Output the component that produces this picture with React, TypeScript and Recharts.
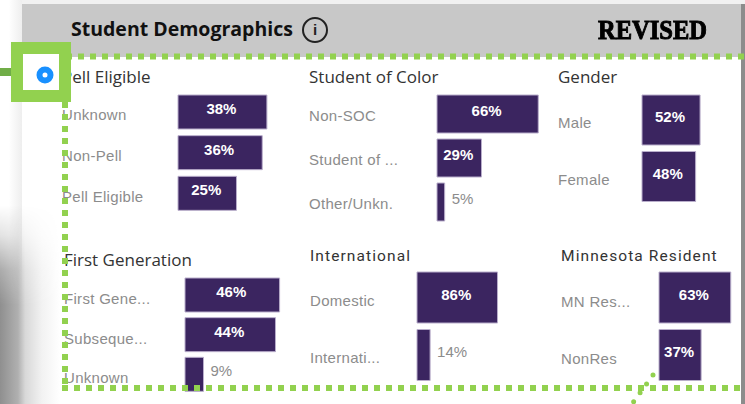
import React from 'react';
import { BarChart, Bar, XAxis, YAxis, LabelList } from 'recharts';

const PURPLE = '#3b2560';
const GREEN = '#92d14f';

const pellCategories = ['Unknown', 'Non-Pell', 'Pell Eligible'];
const pellValues = [38, 36, 25];
const socCategories = ['Non-SOC', 'Student of ...', 'Other/Unkn.'];
const socValues = [66, 29, 5];
const genderCategories = ['Male', 'Female'];
const genderValues = [52, 48];
const firstGenCategories = ['First Gene...', 'Subseque...', 'Unknown'];
const firstGenValues = [46, 44, 9];
const intlCategories = ['Domestic', 'Internati...'];
const intlValues = [86, 14];
const residentCategories = ['MN Res...', 'NonRes'];
const residentValues = [63, 37];

const toRows = (cats: string[], vals: number[]) => cats.map((name, i) => ({ name, value: vals[i] }));

const CategoryTick = (props: any) => {
  const { y, payload, labelOffset } = props;
  return (
    <text x={0} y={y + labelOffset} fontFamily="'Liberation Sans', Arial" fontSize={15} fill="#8c8c8c" letterSpacing={0.3}>
      {payload.value}
    </text>
  );
};

// value label sits inside the bar when it fits, otherwise just past the end
const ValueLabel = (props: any) => {
  const { x, y, width, height, value } = props;
  const inside = width > 30;
  return (
    <text
      x={inside ? x + width / 2 - 1 : x + width + 7}
      y={y + height / 2 + 2}
      textAnchor={inside ? 'middle' : 'start'}
      fontFamily="'Liberation Sans', Arial"
      fontSize={15}
      fontWeight={inside ? 700 : 400}
      fill={inside ? '#ffffff' : '#8c8c8c'}
    >
      {value}%
    </text>
  );
};

type SmallBarProps = {
  left: number;
  top: number;
  width: number;
  height: number;
  axisWidth: number;
  max: number;
  categories: string[];
  values: number[];
  barSize: number;
  labelOffset?: number;
};

const SmallBar = ({ left, top, width, height, axisWidth, max, categories, values, barSize, labelOffset = 6 }: SmallBarProps) => (
  <div style={{ position: 'absolute', left, top }}>
    <BarChart
      width={width}
      height={height}
      layout="vertical"
      data={toRows(categories, values)}
      margin={{ top: 0, right: 0, bottom: 0, left: 0 }}
      barSize={barSize}
    >
      <XAxis type="number" hide domain={[0, max]} />
      <YAxis
        type="category"
        dataKey="name"
        width={axisWidth}
        axisLine={false}
        tickLine={false}
        interval={0}
        tick={<CategoryTick labelOffset={labelOffset} />}
      />
      <Bar dataKey="value" fill={PURPLE} stroke="#b9aecb" strokeWidth={1} isAnimationActive={false}>
        <LabelList dataKey="value" content={<ValueLabel />} />
      </Bar>
    </BarChart>
  </div>
);

const Title = ({ left, top, children, din }: { left: number; top: number; children: string; din?: boolean }) => (
  <div
    style={{
      position: 'absolute',
      left,
      top,
      fontFamily: din ? 'Roboto' : "'Open Sans'",
      fontSize: din ? 15.5 : 17,
      letterSpacing: din ? 1.1 : 0,
      color: '#333333',
      whiteSpace: 'nowrap',
      lineHeight: '20px',
    }}
  >
    {children}
  </div>
);

const shadowMask = 'linear-gradient(180deg,transparent,rgba(0,0,0,0.25) 30%,rgba(0,0,0,0.75) 65%,#000 100px)';

const App = () => (
  <div style={{ position: 'absolute', left: 0, top: 0, width: 745, height: 404, overflow: 'hidden', background: '#ffffff' }}>
    {/* shadow behind the report panel */}
    <div style={{ position: 'absolute', left: 0, top: 0, width: 745, height: 4, background: '#f1f1f1' }} />
    <div style={{ position: 'absolute', left: 0, top: 0, width: 22, height: 404, background: 'linear-gradient(90deg,#ffffff 40%,#eeeeee)' }} />
    <div
      style={{
        position: 'absolute',
        left: 0,
        top: 205,
        width: 60,
        height: 199,
        background: 'linear-gradient(90deg,#8f8f8f,#b0b0b0 30%,#d8d8d8 42%,#f2f2f2 70%,#ffffff)',
        maskImage: 'linear-gradient(180deg,transparent,rgba(0,0,0,0.25) 30px,rgba(0,0,0,0.75) 65px,#000 100px)',
        WebkitMaskImage: 'linear-gradient(180deg,transparent,rgba(0,0,0,0.25) 30px,rgba(0,0,0,0.75) 65px,#000 100px)',
      }}
    />

    <div style={{ position: 'absolute', left: 22, top: 4, width: 719, height: 53, background: '#c8c8c8' }} />
    <div style={{ position: 'absolute', left: 741, top: 4, width: 4, height: 400, background: '#8c8c8c' }} />

    <div style={{ position: 'absolute', left: 71, top: 16, fontFamily: "'Open Sans'", fontWeight: 700, fontSize: 19.5, lineHeight: '26px', color: '#111111', whiteSpace: 'nowrap' }}>
      Student Demographics
    </div>
    <div style={{ position: 'absolute', left: 302, top: 17, width: 22, height: 22, border: '2px solid #222222', borderRadius: '50%', textAlign: 'center', fontFamily: "'Liberation Sans'", fontWeight: 700, fontSize: 15, lineHeight: '22px', color: '#222222' }}>
      i
    </div>
    <div style={{ position: 'absolute', left: 598, top: 13, fontFamily: "'Liberation Serif'", fontWeight: 700, fontSize: 28, lineHeight: '34px', color: '#000000', WebkitTextStroke: '1px #000000', whiteSpace: 'nowrap', transform: 'scaleX(0.875)', transformOrigin: 'left center' }}>
      REVISED
    </div>

    <Title left={62} top={67}>Pell Eligible</Title>
    <Title left={309} top={67}>Student of Color</Title>
    <Title left={558} top={67}>Gender</Title>
    <Title left={64} top={250}>First Generation</Title>
    <Title left={310} top={246} din>International</Title>
    <Title left={561} top={246} din>Minnesota Resident</Title>

    <SmallBar left={62} top={92} width={240} height={122} axisWidth={116} max={53} categories={pellCategories} values={pellValues} barSize={34} labelOffset={8} />
    <SmallBar left={309} top={92} width={240} height={132} axisWidth={128} max={73} categories={socCategories} values={socValues} barSize={38} labelOffset={7} />
    <SmallBar left={558} top={92} width={170} height={113} axisWidth={84} max={77} categories={genderCategories} values={genderValues} barSize={50} labelOffset={8} />
    <SmallBar left={64} top={275} width={230} height={119} axisWidth={121} max={53} categories={firstGenCategories} values={firstGenValues} barSize={34} labelOffset={9} />
    <SmallBar left={310} top={269} width={210} height={115} axisWidth={107} max={110} categories={intlCategories} values={intlValues} barSize={51} labelOffset={8} />
    <SmallBar left={561} top={269} width={180} height={115} axisWidth={98} max={72} categories={residentCategories} values={residentValues} barSize={51} labelOffset={9} />

    {/* annotation overlay */}
    <svg width={745} height={404} style={{ position: 'absolute', left: 0, top: 0, pointerEvents: 'none' }}>
      <line x1={66} y1={56.5} x2={745} y2={56.5} stroke={GREEN} strokeWidth={6} strokeDasharray="6 6" />
      <line x1={65} y1={102} x2={65} y2={390} stroke={GREEN} strokeWidth={6} strokeDasharray="6 6" />
      <line x1={62} y1={388} x2={745} y2={388} stroke={GREEN} strokeWidth={6} strokeDasharray="6 6" />
      <line x1={653} y1={375} x2={632} y2={404} stroke={GREEN} strokeWidth={5} strokeLinecap="round" strokeDasharray="0 11" />
      <rect x={0} y={68} width={17} height={8} fill="#70ad47" />
      <rect x={17} y={48} width={48} height={48} fill="#ffffff" stroke={GREEN} strokeWidth={12} />
      <circle cx={45} cy={75} r={5.5} fill="#ffffff" stroke="#1890ff" strokeWidth={6} />
    </svg>
  </div>
);

export default App;
